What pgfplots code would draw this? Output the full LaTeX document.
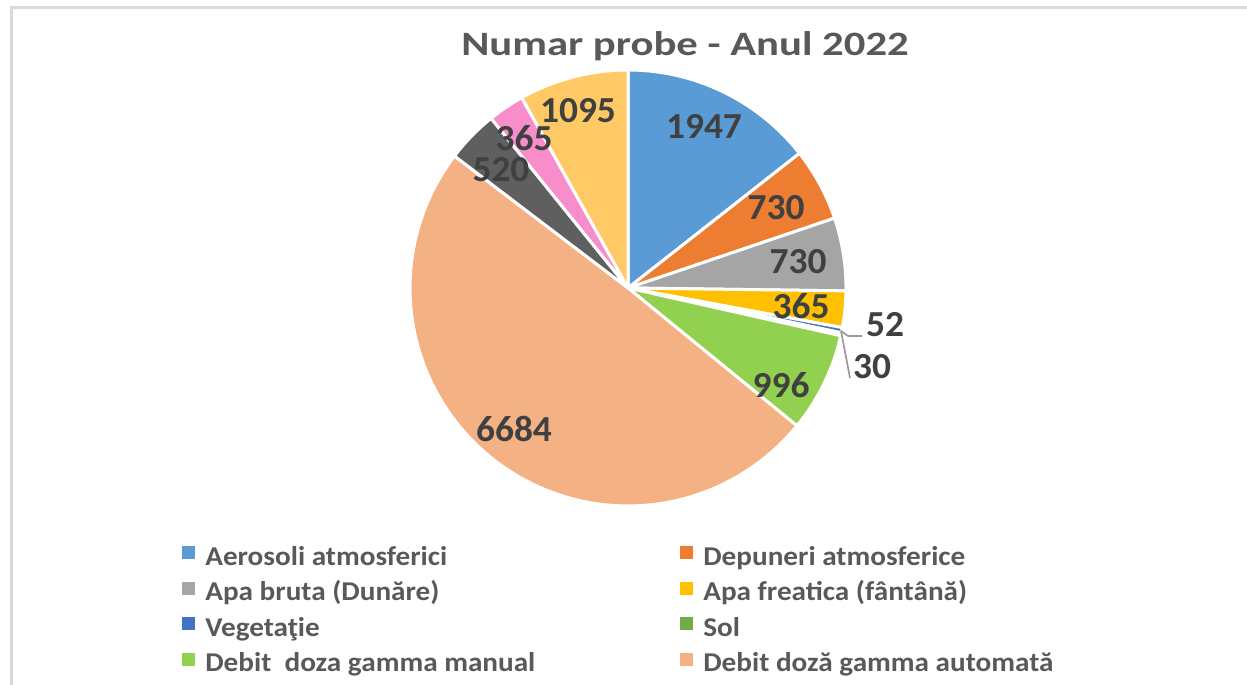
\documentclass[border=0pt]{standalone}
\usepackage{pgfplots}
\pgfplotsset{compat=1.18}
\usepackage{pgfplotstable}
\usepackage{fontspec}
\setmainfont{Carlito}
\newfontfamily\titlefont{Carlito}[FakeStretch=1.25]
\newfontfamily\legfont{Carlito}[FakeStretch=1.075]
\newfontfamily\lblfont{Carlito}[FakeStretch=1.02]
\definecolor{cA}{HTML}{5B9BD5}
\definecolor{cB}{HTML}{ED7D31}
\definecolor{cC}{HTML}{A5A5A5}
\definecolor{cD}{HTML}{FFC000}
\definecolor{cE}{HTML}{4472C4}
\definecolor{cF}{HTML}{70AD47}
\definecolor{cG}{HTML}{92D050}
\definecolor{cH}{HTML}{F4B183}
\definecolor{cI}{HTML}{5F5F5F}
\definecolor{cJ}{HTML}{F88DCB}
\definecolor{cK}{HTML}{FFCA66}
\definecolor{txt}{HTML}{595959}
\definecolor{lbl}{HTML}{404040}
\definecolor{frame}{HTML}{D9D9D9}

% values of the pie, clockwise from 12 o'clock
\pgfplotstableread{
value
1947
730
730
365
52
30
996
6684
520
365
1095
}\piedata

\begin{document}
\begin{tikzpicture}
% cumulative angles
\gdef\cum{0}
\foreach \i in {0,...,10}{%
  \pgfplotstablegetelem{\i}{value}\of\piedata
  \pgfmathsetmacro\newcum{\cum+\pgfplotsretval}
  \xdef\cum{\newcum}
}
\xdef\total{\cum}
\gdef\cum{0}
\foreach \i in {0,...,10}{%
  \pgfplotstablegetelem{\i}{value}\of\piedata
  \pgfmathsetmacro\a{90-360*(\cum/\total)}
  \pgfmathsetmacro\newcum{\cum+\pgfplotsretval}
  \pgfmathsetmacro\b{90-360*(\newcum/\total)}
  \expandafter\xdef\csname sa\i\endcsname{\a}
  \expandafter\xdef\csname sb\i\endcsname{\b}
  \xdef\cum{\newcum}
}
\useasboundingbox (0,0) rectangle (748.2pt,411pt);
\begin{axis}[
  x=0.6pt, y=0.6pt,
  xmin=0, xmax=1247, ymin=0, ymax=685,
  hide axis, clip=false,
  legend columns=2,
  legend style={at={(axis cs:182,150)}, anchor=north west, draw=none, fill=none,
    font=\fontsize{16.3pt}{22.6pt}\selectfont\legfont\bfseries\color{txt},
    row sep=0pt, inner sep=0pt,
    /tikz/every odd column/.append style={column sep=4pt}},
  legend cell align=left,
  legend image code/.code={\fill[#1,draw=none] (0pt,-3.6pt) rectangle (7.8pt,4.2pt);},
]
\newcommand\slice[2]{%
  \addplot[fill=#2, draw=white, line width=1.8pt, line join=round, domain=\csname sb#1\endcsname:\csname sa#1\endcsname, samples=80, variable=\t]
    ({628+218*cos(\t)},{397+218*sin(\t)}) -- (axis cs:628,397) -- cycle;}
\slice{0}{cA}\addlegendentry{\makebox[283pt][l]{\strut Aerosoli atmosferici}}
\slice{1}{cB}\addlegendentry{\strut Depuneri atmosferice}
\slice{2}{cC}\addlegendentry{\makebox[283pt][l]{\strut Apa bruta (Dunăre)}}
\slice{3}{cD}\addlegendentry{\strut Apa freatica (fântână)}
\slice{4}{cE}\addlegendentry{\makebox[283pt][l]{\strut Vegetaţie}}
\slice{5}{cF}\addlegendentry{\strut Sol}
\slice{6}{cG}\addlegendentry{\makebox[283pt][l]{\strut Debit\ \ doza gamma manual}}
\slice{7}{cH}\addlegendentry{\strut Debit doză gamma automată}
\pgfplotsset{every axis plot/.append style={forget plot}}
\slice{8}{cI}
\slice{9}{cJ}
\slice{10}{cK}
% leader lines
\draw[gray!80, line width=1pt] (axis cs:841,354) -- (axis cs:848,349) -- (axis cs:862,349);
\draw[gray!80, line width=1pt] (axis cs:841,354) -- (axis cs:850,307);
% labels
\begin{scope}[every node/.style={font=\fontsize{22pt}{24pt}\selectfont\lblfont\bfseries, text=lbl, inner sep=0pt}]
\node at (axis cs:704,559) {1947};
\node at (axis cs:776,477) {730};
\node at (axis cs:798,423) {730};
\node at (axis cs:801,379) {365};
\node at (axis cs:885,360) {52};
\node at (axis cs:872,318) {30};
\node at (axis cs:781,300) {996};
\node at (axis cs:514,256) {6684};
\node at (axis cs:501,515) {520};
\node at (axis cs:524,547) {365};
\node at (axis cs:578,574) {1095};
\end{scope}
% title
\node[anchor=base, font=\fontsize{20.5pt}{24pt}\selectfont\titlefont\bfseries, text=txt, inner sep=0pt] at (axis cs:685,629) {Numar probe - Anul 2022};
% frame
\draw[frame, line width=1.8pt] (axis cs:11,0) -- (axis cs:11,677) -- (axis cs:1247,677);
\end{axis}
\end{tikzpicture}
\end{document}
